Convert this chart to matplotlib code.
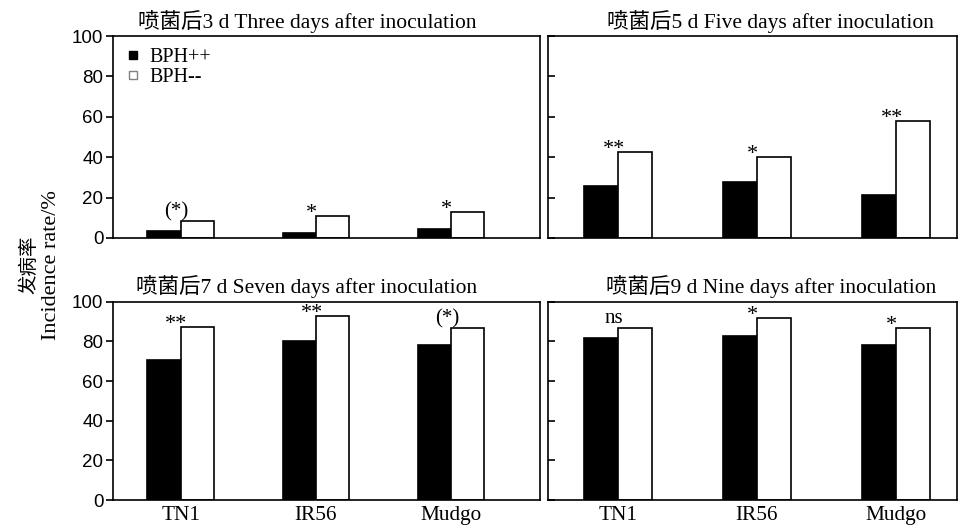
"""Incidence rate of BPH++ vs BPH-- plants at 3, 5, 7 and 9 days after inoculation."""
import matplotlib
matplotlib.use("Agg")
import matplotlib.pyplot as plt
from matplotlib.lines import Line2D
import numpy as np

serif = ["Liberation Serif", "Noto Sans CJK SC", "DejaVu Serif"]
sans = ["Liberation Sans", "DejaVu Sans"]

varieties = ["TN1", "IR56", "Mudgo"]
titles = [
    "喷菌后3 d Three days after inoculation",
    "喷菌后5 d Five days after inoculation",
    "喷菌后7 d Seven days after inoculation",
    "喷菌后9 d Nine days after inoculation",
]
bph_pos = [
    [3.6, 2.6, 4.6],
    [25.5, 27.7, 21.5],
    [70.8, 80.2, 78.3],
    [81.6, 82.9, 78.2],
]
bph_neg = [
    [8.6, 10.9, 12.9],
    [42.6, 40.0, 57.9],
    [87.2, 92.9, 86.7],
    [87.0, 91.9, 87.0],
]
signif = [
    ["(*)", "*", "*"],
    ["**", "*", "**"],
    ["**", "**", "(*)"],
    ["ns", "*", "*"],
]

fig = plt.figure(figsize=(9.6, 5.3), dpi=100)
boxes = [
    [0.1177, 0.551, 0.445, 0.381],
    [0.571, 0.551, 0.426, 0.381],
    [0.1177, 0.0566, 0.445, 0.374],
    [0.571, 0.0566, 0.426, 0.374],
]
x = np.arange(len(varieties))
w = 0.245

for i, box in enumerate(boxes):
    ax = fig.add_axes(box)
    left_col = i % 2 == 0
    ax.bar(x - w / 2, bph_pos[i], w, color="black", edgecolor="black", linewidth=1.2)
    ax.bar(x + w / 2, bph_neg[i], w, color="white", edgecolor="black", linewidth=1.2)
    for xi, v, s in zip(x, bph_neg[i], signif[i]):
        stars_only = set(s) == {"*"}
        ax.annotate(s, (xi - 0.03, v), xytext=(0, -1.5 if stars_only else 3),
                    textcoords="offset points", ha="center", va="baseline",
                    family=serif, fontsize=16 if stars_only else 15)
    ax.set_ylim(0, 100)
    ax.set_xlim(-0.5, 2.66 if left_col else 2.44)
    ax.set_yticks([0, 20, 40, 60, 80, 100])
    ax.set_title(titles[i], family=serif, fontsize=15.5, pad=6,
                 x=0.454 if left_col else 0.544)
    for sp in ax.spines.values():
        sp.set_linewidth(1.2)
    if left_col:
        ax.tick_params(axis="y", direction="out", length=5, width=1.2, labelsize=13.5, pad=2)
        for lab in ax.get_yticklabels():
            lab.set_family(sans)
    else:
        ax.tick_params(axis="y", direction="in", length=5, width=1.2, labelleft=False)
    if i >= 2:
        ax.set_xticks(x)
        ax.set_xticklabels(varieties, family=serif, fontsize=15.3)
        ax.tick_params(axis="x", length=0, pad=4)
    else:
        ax.set_xticks([])
    if i == 0:
        handles = [
            Line2D([], [], marker="s", linestyle="none", markersize=6,
                   markerfacecolor="black", markeredgecolor="black"),
            Line2D([], [], marker="s", linestyle="none", markersize=6,
                   markerfacecolor="white", markeredgecolor="gray"),
        ]
        ax.legend(handles, ["BPH++", "BPH--"], loc="upper left", frameon=False,
                  prop={"family": serif, "size": 14.5}, handlelength=0.8,
                  handletextpad=0.4, labelspacing=0.05, borderaxespad=0.2)

fig.text(0.030, 0.5, "发病率", rotation=90, ha="center", va="center",
         family=["Noto Sans CJK SC"], fontsize=14)
fig.text(0.054, 0.5, "Incidence rate/%", rotation=90, ha="center", va="center",
         family=serif, fontsize=16)

fig.savefig("out.png", dpi=100)
